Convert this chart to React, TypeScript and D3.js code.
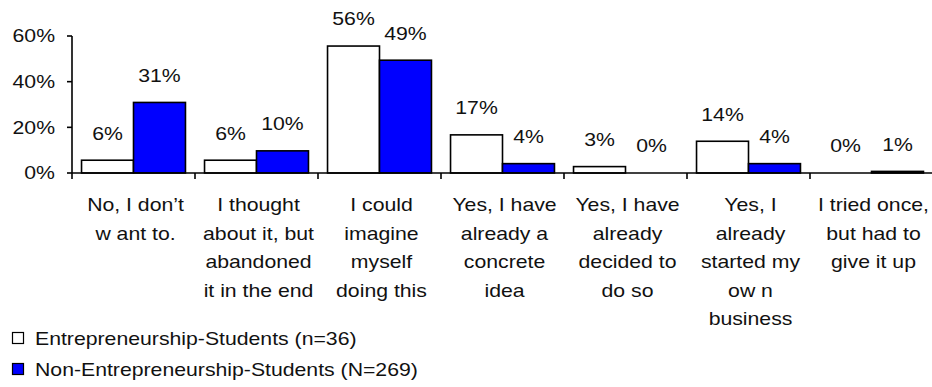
import React from "react";
import * as d3 from "d3";

const categories: string[][] = [
  ["No, I don\u2019t", "w ant to."],
  ["I thought", "about it, but", "abandoned", "it in the end"],
  ["I could", "imagine", "myself", "doing this"],
  ["Yes, I have", "already a", "concrete", "idea"],
  ["Yes, I have", "already", "decided to", "do so"],
  ["Yes, I", "already", "started my", "ow n", "business"],
  ["I tried once,", "but had to", "give it up"],
];
const entrepreneurship: number[] = [5.6, 5.6, 55.6, 16.7, 2.8, 13.9, 0];
const nonEntrepreneurship: number[] = [30.9, 9.7, 49.4, 4.1, 0, 4.1, 0.7];
const seriesNames: string[] = [
  "Entrepreneurship-Students (n=36)",
  "Non-Entrepreneurship-Students (N=269)",
];
const seriesColors: string[] = ["#FFFFFF", "#0000FF"];
const yTicks: number[] = [0, 20, 40, 60];

const W = 932;
const H = 387;
const FONT = "'Liberation Sans', Arial, sans-serif";
const FS = 18;
const SX = 1.18;

function T({ x, y, anchor = "middle", children }: any) {
  return (
    <text
      transform={`translate(${x},${y}) scale(${SX},1)`}
      textAnchor={anchor}
      dominantBaseline="central"
      fontFamily={FONT}
      fontSize={FS}
      fill="#111"
    >
      {children}
    </text>
  );
}

export default function App() {
  const idx = categories.map((_, i) => i);
  const x = d3
    .scaleBand<number>()
    .domain(idx)
    .range([72, 933])
    .paddingInner(0.155)
    .paddingOuter(0.0775);
  const step = x.step();
  const x1 = d3.scaleBand<number>().domain([0, 1]).range([0, x.bandwidth()]);
  const y = d3.scaleLinear().domain([0, 60]).range([173, 36]);
  const series = [entrepreneurship, nonEntrepreneurship];
  const x0 = 72;

  return (
    <svg width={W} height={H} style={{ position: "absolute", left: 0, top: 0 }}>
      <rect width={W} height={H} fill="#fff" />
      {series.map((vals, s) =>
        vals.map((v, i) => (
          <rect
            key={`b${s}-${i}`}
            x={(x(i) as number) + (x1(s) as number)}
            y={y(v)}
            width={x1.bandwidth()}
            height={y(0) - y(v)}
            fill={seriesColors[s]}
            stroke="#000"
            strokeWidth={1.6}
          />
        ))
      )}
      {series.map((vals, s) =>
        vals.map((v, i) => (
          <T
            key={`l${s}-${i}`}
            x={(x(i) as number) + (x1(s) as number) + x1.bandwidth() / 2}
            y={y(v) - 27}
          >
            {`${Math.round(v)}%`}
          </T>
        ))
      )}
      <line x1={x0} x2={x0} y1={y(60)} y2={y(0)} stroke="#000" strokeWidth={1.6} />
      {yTicks.map((t) => (
        <g key={`yt${t}`}>
          <line x1={x0 - 5} x2={x0} y1={y(t)} y2={y(t)} stroke="#000" strokeWidth={1.6} />
          <T x={55} y={y(t)} anchor="end">{`${t}%`}</T>
        </g>
      ))}
      <line x1={x0} x2={933} y1={y(0)} y2={y(0)} stroke="#000" strokeWidth={1.6} />
      {d3.range(categories.length + 1).map((k) => (
        <line
          key={`xt${k}`}
          x1={x0 + k * step}
          x2={x0 + k * step}
          y1={y(0)}
          y2={y(0) + 6}
          stroke="#000"
          strokeWidth={1.6}
        />
      ))}
      {categories.map((lines, i) =>
        lines.map((ln, j) => (
          <T key={`c${i}-${j}`} x={(x(i) as number) + x.bandwidth() / 2 + 2} y={205 + j * 28.5}>
            {ln}
          </T>
        ))
      )}
      {seriesNames.map((name, s) => (
        <g key={`lg${s}`}>
          <rect
            x={12.5}
            y={332.5 + s * 31}
            width={11}
            height={11}
            fill={seriesColors[s]}
            stroke="#000"
            strokeWidth={1.2}
          />
          <T x={35} y={338.5 + s * 31} anchor="start">
            {name}
          </T>
        </g>
      ))}
    </svg>
  );
}
